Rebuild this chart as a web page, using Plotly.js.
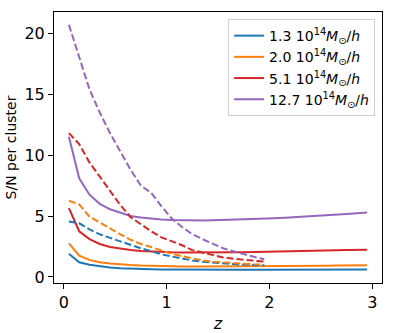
<!DOCTYPE html>
<html>
<head>
<meta charset="utf-8">
<script src="https://cdn.plot.ly/plotly-3.0.1.min.js"></script>
<style>html,body{margin:0;padding:0;background:#fff;}#chart{width:394px;height:333px;}</style>
</head>
<body>
<div id="chart"></div>
<script>
const zSolid = [0.05,0.15,0.25,0.35,0.45,0.55,0.65,0.75,0.85,0.95,1.05,1.15,1.25,1.35,1.45,1.55,1.65,1.75,1.85,1.95,2.05,2.15,2.25,2.35,2.45,2.55,2.65,2.75,2.85,2.95];
const zDashed = [0.05,0.15,0.25,0.35,0.45,0.55,0.65,0.75,0.85,0.95,1.05,1.15,1.25,1.35,1.45,1.55,1.65,1.75,1.85,1.95];

const massLabels = ["1.3", "2.0", "5.1", "12.7"];
const colors = ["#1f77b4", "#ff7f0e", "#d62728", "#9467bd"];

const solid13 = [1.9,1.2,1.0,0.87,0.78,0.72,0.67,0.64,0.62,0.6,0.59,0.58,0.58,0.58,0.58,0.58,0.58,0.58,0.58,0.58,0.58,0.58,0.59,0.59,0.59,0.59,0.6,0.6,0.6,0.6];
const solid20 = [2.75,1.75,1.4,1.2,1.1,1.02,0.97,0.93,0.9,0.88,0.87,0.86,0.86,0.86,0.86,0.86,0.87,0.87,0.88,0.88,0.89,0.9,0.9,0.91,0.92,0.92,0.93,0.94,0.94,0.95];
const solid51 = [5.65,3.75,3.1,2.7,2.45,2.3,2.2,2.13,2.08,2.04,2.02,2.01,2.0,2.0,2.0,2.01,2.02,2.03,2.04,2.06,2.07,2.09,2.1,2.12,2.14,2.16,2.18,2.2,2.22,2.24];
const solid127 = [11.5,8.1,6.75,6.0,5.55,5.25,5.0,4.88,4.78,4.72,4.68,4.65,4.64,4.64,4.65,4.67,4.69,4.72,4.75,4.78,4.82,4.86,4.9,4.95,5.0,5.05,5.1,5.16,5.22,5.28];

const dashed13 = [4.55,4.4,3.9,3.5,3.2,2.9,2.6,2.35,2.1,1.85,1.68,1.5,1.35,1.25,1.17,1.1,1.05,1.01,0.98,0.95];
const dashed20 = [6.25,5.95,4.95,4.45,3.95,3.5,3.05,2.7,2.45,2.15,1.9,1.7,1.5,1.35,1.25,1.18,1.12,1.08,1.03,1.0];
const dashed51 = [11.8,10.9,9.4,8.2,7.1,5.9,4.9,4.3,3.75,3.25,2.95,2.6,2.2,2.0,1.8,1.6,1.5,1.4,1.3,1.25];
const dashed127 = [20.7,18.0,15.4,13.5,11.8,10.3,8.8,7.5,6.9,5.8,4.8,4.1,3.5,3.1,2.7,2.35,2.1,1.85,1.65,1.45];

const xTicks = [0, 1, 2, 3];
const yTicks = [0, 5, 10, 15, 20];

const solids = [solid13, solid20, solid51, solid127];
const dasheds = [dashed13, dashed20, dashed51, dashed127];

const traces = [];
for (let i = 0; i < 4; i++) {
  traces.push({
    x: zSolid, y: solids[i], type: "scatter", mode: "lines",
    name: massLabels[i] + " 10<sup>14</sup><i>M</i><sub>⊙</sub>/<i>h</i>",
    line: {color: colors[i], width: 2},
    showlegend: true
  });
}
for (let i = 0; i < 4; i++) {
  traces.push({
    x: zDashed, y: dasheds[i], type: "scatter", mode: "lines",
    line: {color: colors[i], width: 2, dash: "7px,3px"},
    showlegend: false
  });
}

const tickFont = {family: "DejaVu Sans", size: 16, color: "#000"};
const titleFont = {family: "DejaVu Sans", size: 14, color: "#000"};
const layout = {
  width: 394, height: 333,
  margin: {l: 54, r: 12, t: 12, b: 50},
  paper_bgcolor: "#fff", plot_bgcolor: "#fff",
  font: titleFont,
  showlegend: true,
  legend: {
    x: 0.979, y: 0.974, xanchor: "right", yanchor: "top",
    bgcolor: "rgba(255,255,255,0.8)", bordercolor: "#d0d0d0", borderwidth: 1,
    font: {family: "DejaVu Sans", size: 14, color: "#000"},
    tracegroupgap: 0
  },
  xaxis: {
    range: [-0.095, 3.095], tickvals: xTicks, ticktext: xTicks.map(String),
    showgrid: false, zeroline: false, showline: true, mirror: true,
    linecolor: "#000", linewidth: 1, ticks: "outside", ticklen: 5, tickwidth: 1, tickcolor: "#000",
    tickfont: tickFont,
    title: {text: "<i>z</i>", font: {family: "DejaVu Sans", size: 16, color: "#000"}}
  },
  yaxis: {
    range: [-0.5, 21.75], tickvals: yTicks, ticktext: yTicks.map(String),
    showgrid: false, zeroline: false, showline: true, mirror: true,
    linecolor: "#000", linewidth: 1, ticks: "outside", ticklen: 5, tickwidth: 1, tickcolor: "#000",
    tickfont: tickFont,
    title: {text: "S/N per cluster", font: titleFont}
  }
};

Plotly.newPlot("chart", traces, layout, {displayModeBar: false, staticPlot: true});
</script>
</body>
</html>
